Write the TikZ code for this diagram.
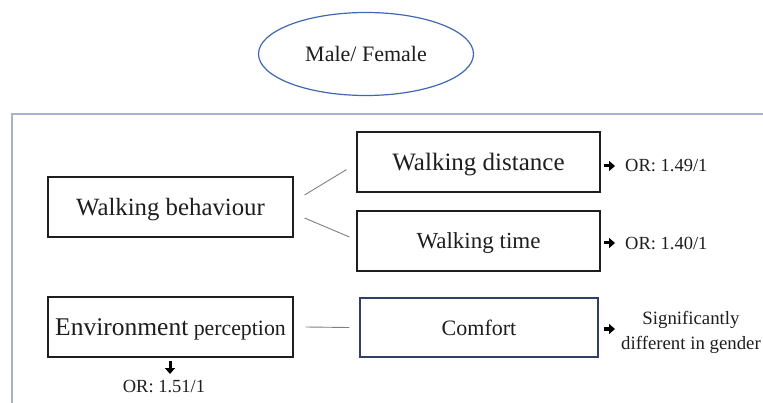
\documentclass[tikz,border=0pt]{standalone}
\usepackage{fontspec}
\setmainfont{Liberation Serif}
\usetikzlibrary{arrows.meta,shapes.geometric}
\definecolor{ellblue}{HTML}{4068B0}
\definecolor{framec}{HTML}{A8B4C8}
\definecolor{comfc}{HTML}{2F3F66}
\definecolor{txt}{HTML}{1E1E1E}
\definecolor{linkc}{HTML}{808080}
\tikzset{
  box/.style={draw=txt, line width=1.2pt, minimum width=#1, minimum height=60pt, inner sep=0pt, text=txt, text depth=0pt},
  link/.style={draw=linkc, line width=0.9pt},
  fatarrow/.style={draw=black, line width=3pt, -{Triangle[length=6pt,width=10pt]}},
  lab/.style={text=txt, inner sep=0pt, font=\fontsize{18.5}{21}\selectfont},
}
\begin{document}
\begin{tikzpicture}[x=1pt,y=-1pt]
\useasboundingbox (0,0) rectangle (763,403);
\fill[white] (0,0) rectangle (763,403);
% frame
\draw[framec, line width=1.2pt] (763,114) -- (12,114) -- (12,403);
% ellipse
\node[draw=ellblue, line width=1.2pt, ellipse, minimum width=215pt, minimum height=83pt, inner sep=0pt, text=txt,
  font=\fontsize{22}{26}\selectfont, text depth=0pt] (mf) at (366,54) {Male/ Female};
% boxes
\node[box=245pt, font=\fontsize{24.8}{28}\selectfont] (wb) at (170.5,207) {Walking behaviour};
\node[box=245pt, font=\fontsize{25.5}{28}\selectfont] (ep) at (170.5,327) {Environment\fontsize{21.8}{26}\selectfont{} perception};
\node[box=243pt, font=\fontsize{25}{28}\selectfont] (wd) at (478.5,162) {Walking distance};
\node[box=243pt, font=\fontsize{23}{28}\selectfont] (wt) at (478.5,241) {Walking time};
\node[box=238pt, draw=comfc, font=\fontsize{22}{26}\selectfont, minimum height=59pt] (cf) at (479,327.5) {Comfort};
% links
\draw[link] ([xshift=11pt,yshift=12pt]wb.east) -- ([xshift=-10pt,yshift=23pt]wd.south west);
\draw[link] ([xshift=11pt,yshift=-11pt]wb.east) -- ([xshift=-7pt,yshift=4pt]wt.west);
\draw[link] ([xshift=12pt]ep.east) -- ([xshift=-10pt]cf.west);
% result labels
\node[lab, anchor=west] (orwd) at (625,166) {OR: 1.49/1};
\node[lab, anchor=west] (orwt) at (625,243) {OR: 1.40/1};
\node[lab, align=center, font=\fontsize{18.8}{25}\selectfont] (sig) at (691,332) {Significantly\\different in gender};
\node[lab] (orep) at (164,387) {OR: 1.51/1};
% arrows
\coordinate (a1) at (604,166);
\coordinate (b1) at (615,166);
\coordinate (a2) at (604,243);
\coordinate (b2) at (615,243);
\coordinate (a3) at (604,329);
\coordinate (b3) at (615,329);
\coordinate (a4) at (170,361);
\coordinate (b4) at (170,374);
\draw[fatarrow] (a1) -- (b1);
\draw[fatarrow] (a2) -- (b2);
\draw[fatarrow] (a3) -- (b3);
\draw[fatarrow] (a4) -- (b4);
\end{tikzpicture}
\end{document}
